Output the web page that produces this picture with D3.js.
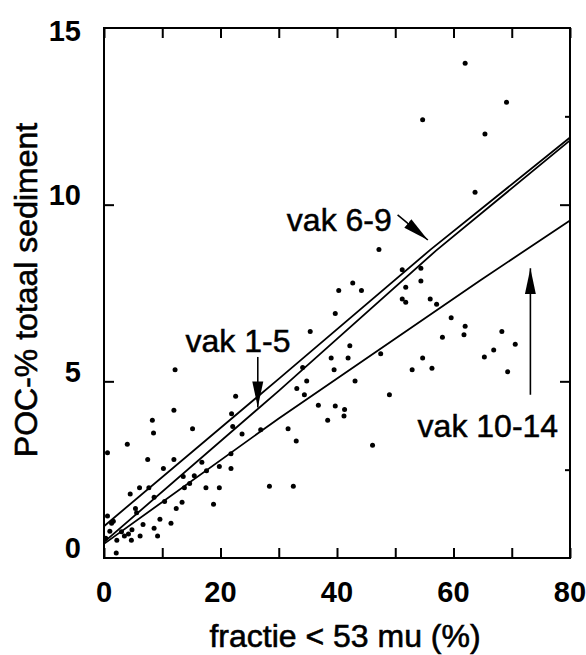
<!DOCTYPE html>
<html><head><meta charset="utf-8">
<script src="https://cdn.jsdelivr.net/npm/d3@7"></script>
<style>
html,body{margin:0;padding:0;background:#fff;}
svg text{font-family:"Liberation Sans",Arial,Helvetica,sans-serif;fill:#000;}
</style></head>
<body><svg id="c" width="586" height="655"></svg>
<script>
// ---- data ----
const pocX = [62.0,69.1,54.7,65.4,63.7,47.2,51.2,54.4,51.8,54.4,51.2,51.8,40.3,42.7,44.2,56.0,57.1,59.6,62.0,61.8,58.1,68.3,70.6,66.9,65.3,54.7,56.3,52.9,69.3,49.0,47.5,46.1,39.7,35.4,39.0,41.9,42.2,39.5,34.1,34.8,33.1,34.4,43.1,36.8,39.7,41.3,38.4,41.2,31.6,33.0,26.9,32.5,28.4,22.6,21.9,22.1,23.7,21.8,21.8,19.8,19.8,17.6,17.5,18.8,15.5,15.2,14.7,13.6,13.4,12.2,12.0,12.0,12.4,11.5,10.2,10.4,9.6,8.3,8.5,7.5,8.6,9.2,8.6,6.7,6.1,4.5,4.0,5.6,4.8,4.7,6.2,3.5,2.2,1.6,0.6,1.0,2.1,0.6,1.3,0.3,3.0,4.2,5.4,7.7,13.8,16.8];
const pocY = [14.0,12.9,12.4,12.0,10.35,8.73,8.16,8.2,7.66,7.84,7.33,7.24,7.57,7.78,7.57,7.33,7.18,6.80,6.56,6.32,6.25,6.41,6.05,5.89,5.69,5.66,5.37,5.33,5.27,4.62,5.78,3.19,6.92,6.41,5.66,5.66,6.01,5.33,5.39,5.01,4.80,4.62,5.01,4.32,4.30,4.20,3.90,4.02,3.66,3.31,3.63,2.03,2.03,4.58,4.08,3.72,3.51,2.95,2.53,2.59,1.99,2.47,1.99,1.52,2.33,3.66,2.11,2.31,1.58,5.33,4.18,2.79,1.40,0.98,2.53,1.60,1.10,3.90,3.54,2.79,1.72,0.62,0.84,0.95,1.99,1.81,3.22,1.28,0.80,0.50,0.62,0.62,0.50,1.04,1.19,0.76,0.14,2.98,0.98,0.56,0.74,0.68,1.40,1.99,1.99,2.71];

// regression lines (as traced in the reference)
const lineVak69X = [0, 30, 56, 80];
const lineVak69Y = [0.9, 5.07, 8.72, 11.9];
const lineVak15X = [0, 30, 57, 80];
const lineVak15Y = [0.45, 4.73, 8.7, 11.82];
const lineVak1014X = [0, 30, 64.5, 80];
const lineVak1014Y = [0.4, 3.95, 7.85, 9.55];

const xTickLabels = [0, 20, 40, 60, 80];
const yTickLabels = [0, 5, 10, 15];
const xTitle = "fractie < 53 mu (%)";
const yTitle = "POC-% totaal sediment";

// annotations: label text + anchor in data units, arrow from/to in data units
const annoText = ["vak 6-9", "vak 1-5", "vak 10-14"];
const annoTX = [40.4, 23.0, 65.9];
const annoTY = [9.57, 6.17, 3.75];
const arrowX1 = [50.4, 26.4, 73.2];
const arrowY1 = [9.71, 5.69, 4.62];
const arrowX2 = [55.6, 26.4, 73.2];
const arrowY2 = [9.0, 4.26, 8.2];

// ---- drawing ----
const svg = d3.select("#c");
const L = 104, R = 570, T = 28, B = 558;
const x = d3.scaleLinear().domain([0, 80]).range([L, R]);
const y = d3.scaleLinear().domain([0, 15]).range([B, T]);

svg.append("defs").append("marker")
  .attr("id","ah").attr("viewBox","0 0 26 12").attr("refX",26).attr("refY",6)
  .attr("markerWidth",26).attr("markerHeight",12).attr("markerUnits","userSpaceOnUse")
  .attr("orient","auto")
  .append("path").attr("d","M0,0.5 L26,6 L0,11.5 Z").attr("fill","#000");

// frame
svg.append("rect").attr("x",L).attr("y",T).attr("width",R-L).attr("height",B-T)
  .attr("fill","none").attr("stroke","#000").attr("stroke-width",2);

// axes with inward ticks
const xb = d3.axisBottom(x).tickValues(d3.range(0, 81, 10)).tickSize(-10).tickFormat("");
const xt = d3.axisTop(x).tickValues(d3.range(0, 81, 10)).tickSize(-10).tickFormat("");
const yl = d3.axisLeft(y).tickValues([5, 10]).tickSize(-10).tickFormat("");
const yr = d3.axisRight(y).tickValues([5, 10]).tickSize(-10).tickFormat("");
const yrMinor = d3.axisRight(y).tickValues([2.5, 12.5]).tickSize(-5).tickFormat("");
[[xb,`translate(0,${B})`],[xt,`translate(0,${T})`],[yl,`translate(${L},0)`],[yr,`translate(${R},0)`],[yrMinor,`translate(${R},0)`]]
 .forEach(([ax,tr]) => {
   const g = svg.append("g").attr("transform",tr).call(ax);
   g.select(".domain").remove();
   g.selectAll("line").attr("stroke","#000").attr("stroke-width",2);
 });

// tick labels
svg.append("g").selectAll("text").data(xTickLabels).join("text")
  .attr("x", d => x(d)).attr("y", B + 44)
  .attr("text-anchor","middle").attr("font-size",29).attr("font-weight","bold")
  .text(d => d);
svg.append("g").selectAll("text").data(yTickLabels).join("text")
  .attr("x", 81).attr("y", d => y(d) + (d === 15 ? 3 : -10))
  .attr("dy","0.36em")
  .attr("text-anchor","end").attr("font-size",29).attr("font-weight","bold")
  .text(d => d);

// axis titles
svg.append("text").attr("x", 345).attr("y", 647).attr("text-anchor","middle")
  .attr("font-size",32).attr("stroke","#000").attr("stroke-width",0.6).text(xTitle);
svg.append("text").attr("transform",`translate(37,290) rotate(-90)`)
  .attr("text-anchor","middle").attr("font-size",32)
  .attr("stroke","#000").attr("stroke-width",0.6).text(yTitle);

// regression lines
const lineGen = d3.line().x(d => x(d[0])).y(d => y(d[1]));
[[lineVak69X,lineVak69Y],[lineVak15X,lineVak15Y],[lineVak1014X,lineVak1014Y]].forEach(([xs,ys]) => {
  svg.append("path").datum(xs.map((v,i)=>[v, ys[i]]))
    .attr("d", lineGen).attr("fill","none").attr("stroke","#000").attr("stroke-width",1.8);
});

// points
svg.append("g").selectAll("circle").data(pocX.map((v,i)=>[v, pocY[i]])).join("circle")
  .attr("cx", d => x(d[0])).attr("cy", d => y(d[1])).attr("r", 2.5).attr("fill","#000");

// annotations
svg.append("g").selectAll("text").data(annoText).join("text")
  .attr("x", (d,i) => x(annoTX[i])).attr("y", (d,i) => y(annoTY[i]))
  .attr("dy","0.36em").attr("text-anchor","middle").attr("font-size",32)
  .attr("stroke","#000").attr("stroke-width",0.5)
  .text(d => d);
svg.append("g").selectAll("line").data(annoText).join("line")
  .attr("x1",(d,i)=>x(arrowX1[i])).attr("y1",(d,i)=>y(arrowY1[i]))
  .attr("x2",(d,i)=>x(arrowX2[i])).attr("y2",(d,i)=>y(arrowY2[i]))
  .attr("stroke","#000").attr("stroke-width",1.6).attr("marker-end","url(#ah)");
</script></body></html>
